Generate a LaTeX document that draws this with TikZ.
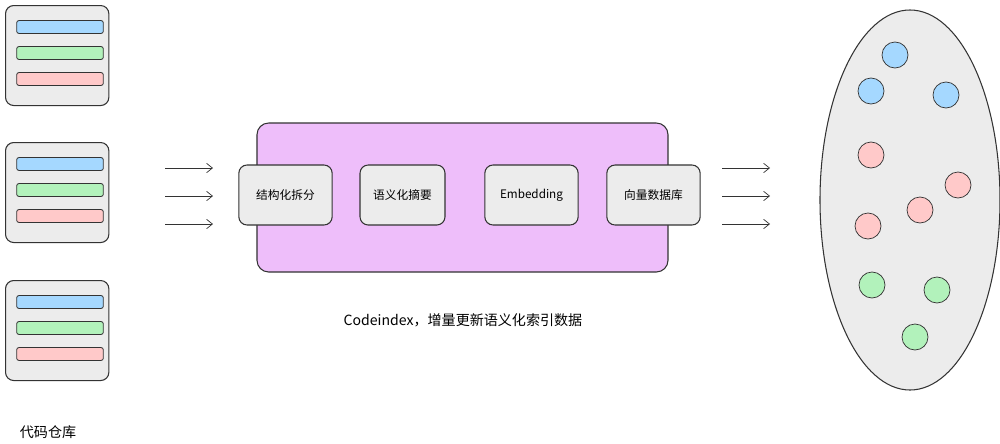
\documentclass[tikz,border=0pt]{standalone}
\usepackage{fontspec}
\setmainfont{Noto Sans CJK SC}
\usetikzlibrary{arrows.meta,shapes.geometric}
\begin{document}
\begin{tikzpicture}[x=0.03cm,y=-0.03cm,
  box/.style={draw=black!80,line width=0.9pt,rounded corners=7pt,fill=gray!15},
  bar/.style={draw=black!80,line width=0.7pt,rounded corners=2pt},
  arr/.style={-{Straight Barb[length=5pt,width=8pt]},line width=0.6pt,draw=black!80},
  dot/.style={circle,draw=black!80,line width=0.6pt,minimum size=0.78cm,inner sep=0pt},
  step box/.style={box,minimum width=2.8cm,minimum height=1.8cm}]
\useasboundingbox (0,0) rectangle (1000,443);
\definecolor{cb}{HTML}{A5D8FF}\definecolor{cg}{HTML}{B2F2BB}\definecolor{cr}{HTML}{FFC9C9}
\definecolor{cp}{HTML}{EEBEFA}
\foreach \y/\n in {5/r1,142/r2,280/r3}{
  \node[box,minimum width=3.1cm,minimum height=3cm,anchor=north west] (\n) at (5,\y) {};
  \node[bar,fill=cb,minimum width=2.6cm,minimum height=0.39cm] at (60,\y+22) {};
  \node[bar,fill=cg,minimum width=2.6cm,minimum height=0.39cm] at (60,\y+48) {};
  \node[bar,fill=cr,minimum width=2.6cm,minimum height=0.39cm] at (60,\y+74) {};
}
\node[font=\large] (lbl) at (48,432) {代码仓库};
\node[draw=black!80,line width=0.9pt,rounded corners=10pt,fill=cp,minimum width=12.33cm,minimum height=4.47cm] (main) at (462.5,197.5) {};
\node[step box] (s1) at (285.5,195) {结构化拆分};
\node[step box,minimum width=2.55cm] (s2) at (402.5,195) {语义化摘要};
\node[step box] (s3) at (531.5,195) {Embedding};
\node[step box] (s4) at (653.5,195) {向量数据库};
\node[font=\large] (cap) at (463,320) {Codeindex，增量更新语义化索引数据};
\foreach \y/\i in {168/1,196/2,224/3}{
  \coordinate (a\i) at (165,\y); \coordinate (b\i) at (213,\y);
  \draw[arr] (a\i) -- (b\i);
  \coordinate (c\i) at (722,\y); \coordinate (d\i) at (770,\y);
  \draw[arr] (c\i) -- (d\i);
}
\node[ellipse,draw=black!80,line width=0.9pt,fill=gray!15,minimum width=5.4cm,minimum height=11.4cm] (db) at (910,200) {};
\foreach \x/\y/\c in {895/55/cb,871/91/cb,946/95/cb,871/155/cr,958/185/cr,920/210/cr,868/226/cr,872/285/cg,937/290/cg,915/337/cg}
  \node[dot,fill=\c] at (\x,\y) {};
\end{tikzpicture}
\end{document}
